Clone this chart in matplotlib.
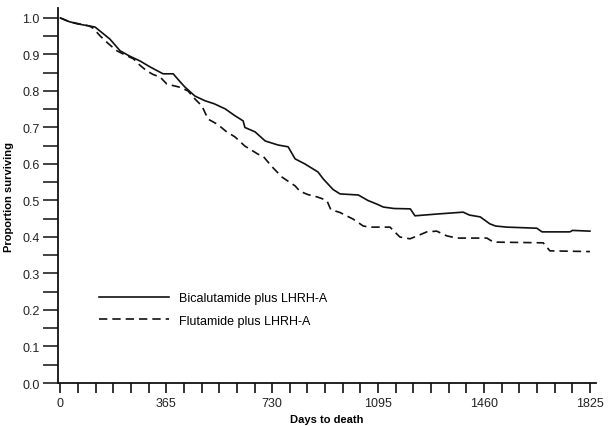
import numpy as np
import matplotlib
matplotlib.use("Agg")
import matplotlib.pyplot as plt

plt.rcParams['font.family'] = ['Liberation Sans', 'DejaVu Sans']

# Kaplan-Meier curves
bica_days = [0, 30, 58, 100, 120, 137, 171, 206, 240, 275, 309, 354, 389, 413, 429,
             464, 499, 530, 568, 602, 630, 636, 671, 706, 750, 785, 809, 843, 888,
             906, 940, 964, 1027, 1060, 1091, 1113, 1150, 1206, 1222, 1300, 1388,
             1410, 1447, 1480, 1500, 1539, 1642, 1660, 1756, 1765, 1825]
bica_surv = [1.0, 0.99, 0.984, 0.978, 0.975, 0.964, 0.942, 0.91, 0.895, 0.882, 0.866,
             0.847, 0.847, 0.825, 0.811, 0.786, 0.773, 0.765, 0.751, 0.732, 0.718,
             0.70, 0.688, 0.663, 0.652, 0.647, 0.614, 0.60, 0.578, 0.559, 0.53,
             0.518, 0.515, 0.50, 0.49, 0.482, 0.478, 0.477, 0.458, 0.463, 0.468,
             0.46, 0.455, 0.436, 0.43, 0.427, 0.424, 0.414, 0.414, 0.418, 0.416]

flut_days = [0, 30, 58, 100, 113, 137, 165, 195, 225, 252, 275, 298, 320, 344, 367,
             413, 440, 464, 488, 509, 543, 570, 602, 636, 681, 700, 730, 764, 790,
             809, 826, 854, 884, 902, 919, 932, 964, 1009, 1044, 1067, 1136, 1170,
             1205, 1230, 1263, 1297, 1332, 1367, 1470, 1492, 1664, 1687, 1825]
flut_surv = [1.0, 0.99, 0.985, 0.978, 0.972, 0.951, 0.93, 0.91, 0.898, 0.888, 0.87,
             0.855, 0.845, 0.838, 0.819, 0.81, 0.80, 0.778, 0.759, 0.723, 0.708,
             0.69, 0.674, 0.649, 0.627, 0.62, 0.592, 0.564, 0.55, 0.54, 0.525,
             0.516, 0.51, 0.505, 0.499, 0.475, 0.467, 0.449, 0.43, 0.427, 0.427,
             0.40, 0.395, 0.403, 0.414, 0.416, 0.403, 0.397, 0.397, 0.386, 0.384,
             0.362, 0.36]

labels = ["Bicalutamide plus LHRH-A", "Flutamide plus LHRH-A"]
x_major = [0, 365, 730, 1095, 1460, 1825]

fig = plt.figure(figsize=(6.11, 4.27), dpi=100)
ax = fig.add_axes([0.0949, 0.1007, 0.8806, 0.878])

ax.plot(bica_days, bica_surv, color='#111111', lw=1.2, label=labels[0])
ax.plot(flut_days, flut_surv, color='#111111', lw=1.2, linestyle=(0, (5, 3)), label=labels[1])

ax.set_xlim(-8, 1846)
ax.set_ylim(0, 1.027)

for s in ['top', 'right']:
    ax.spines[s].set_visible(False)
for s in ['left', 'bottom']:
    ax.spines[s].set_linewidth(1.3)
    ax.spines[s].set_color('#111111')

ax.set_xticks(x_major)
ax.set_xticks(np.arange(0, 1826, 365 / 6), minor=True)
ax.set_yticks(np.arange(0, 1.01, 0.1))
ax.set_yticks(np.arange(0.05, 1.0, 0.1), minor=True)
ax.set_yticklabels(["%.1f" % v for v in np.arange(0, 1.01, 0.1)])

ax.tick_params(axis='x', which='both', direction='out', length=7, width=1.2,
               labelsize=9, pad=3, color='#111111', labelcolor='#222222')
ax.tick_params(axis='y', which='both', direction='out', length=11, width=1.2,
               labelsize=9, pad=2, color='#222222', labelcolor='#222222')

ax.set_xlabel("Days to death", fontsize=8, fontweight='bold', labelpad=4)
ax.set_ylabel("Proportion surviving", fontsize=8, fontweight='bold', labelpad=6)

ax.legend(loc='upper left', bbox_to_anchor=(0.056, 0.273), frameon=False,
          fontsize=9, handlelength=5.6, handletextpad=0.75, labelspacing=0.85)

fig.savefig("out.png", dpi=100)
